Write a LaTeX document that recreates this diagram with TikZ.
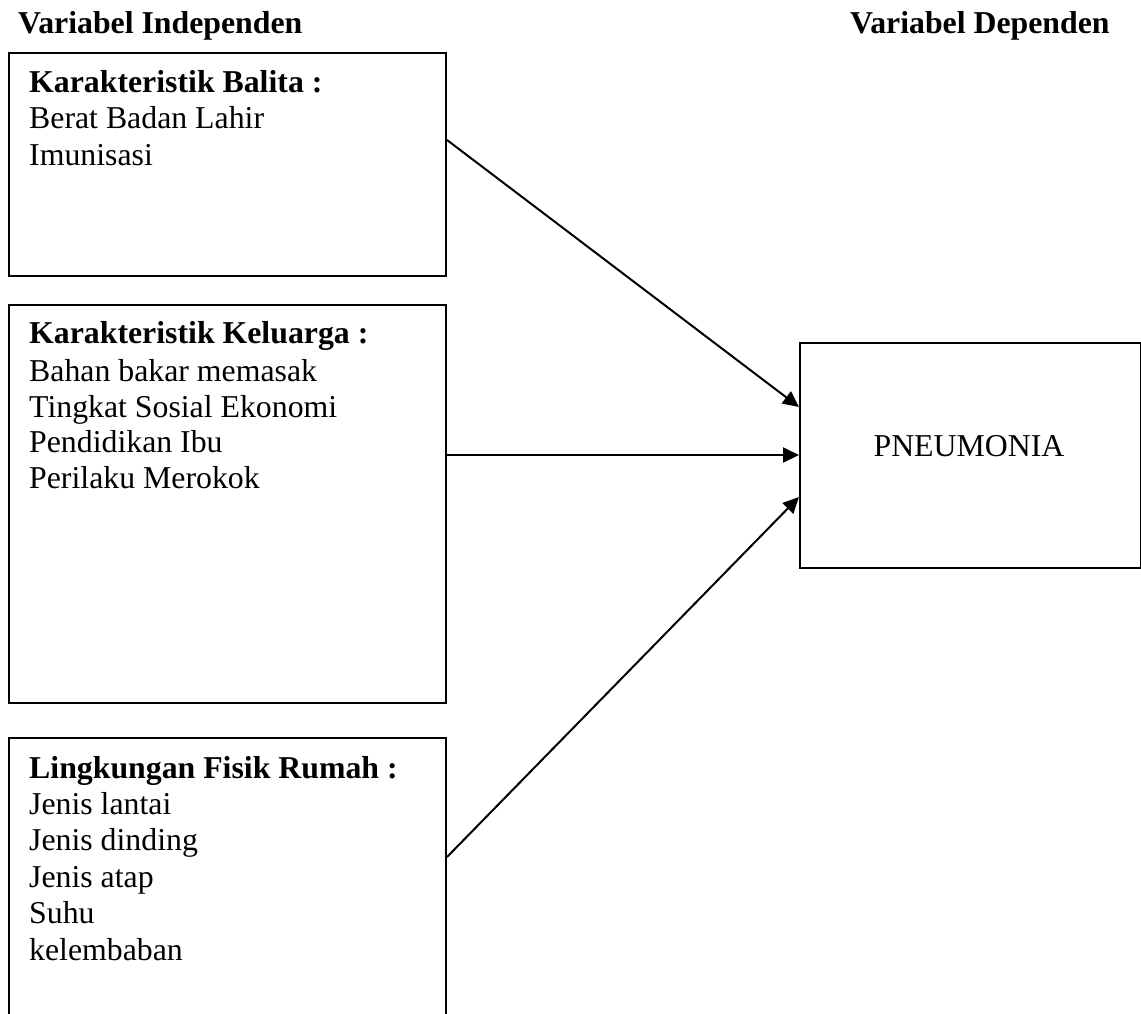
\documentclass[tikz,border=0pt]{standalone}
\usepackage{fontspec}
\setmainfont{Liberation Serif}
\usetikzlibrary{arrows.meta}
\begin{document}
\begin{tikzpicture}[x=1pt,y=-1pt,
  box/.style={draw=black, line width=2pt, rectangle, inner sep=0pt, anchor=north west},
  txt/.style={anchor=base west, inner sep=0pt, align=left, font=\fontsize{31.8}{36.4}\selectfont},
  title/.style={anchor=base west, inner sep=0pt, font=\fontsize{31.8}{36.4}\selectfont\bfseries},
  arr/.style={line width=2pt, -{Triangle[length=16pt,width=15pt]}}]
\useasboundingbox (0,0) rectangle (1141,1013);
\node[title] (t1) at (18,33) {Variabel Independen};
\node[title] (t2) at (850,33) {Variabel Dependen};
\node[box, minimum width=437pt, minimum height=223pt] (b1) at (8,52) {};
\node[box, minimum width=437pt, minimum height=398pt] (b2) at (8,304) {};
\node[box, minimum width=437pt, minimum height=300pt] (b3) at (8,737) {};
\node[box, minimum width=341pt, minimum height=225pt] (pn) at (799,342) {};
% anchors at baseline of last line
\node[txt] (x1) at (29,165) {\textbf{Karakteristik Balita :}\\Berat Badan Lahir\\Imunisasi};
\node[txt] (x2) at (29,488) {\textbf{Karakteristik Keluarga :}\\[2pt]Bahan bakar memasak\\[-1pt]Tingkat Sosial Ekonomi\\[-1pt]Pendidikan Ibu\\[-1pt]Perilaku Merokok};
\node[txt] (x3) at (29,960) {\textbf{Lingkungan Fisik Rumah :}\\Jenis lantai\\Jenis dinding\\Jenis atap\\Suhu\\kelembaban};
\node[anchor=base, inner sep=0pt, font=\fontsize{31.8}{36.4}\selectfont] (pt) at (969,456) {PNEUMONIA};
\draw[arr] (b1.east |- 0,140) -- (pn.west |- 0,407);
\draw[arr] (b2.east |- 0,455) -- (pn.west |- 0,455);
\draw[arr] (b3.east |- 0,857) -- (pn.west |- 0,497);
\end{tikzpicture}
\end{document}
